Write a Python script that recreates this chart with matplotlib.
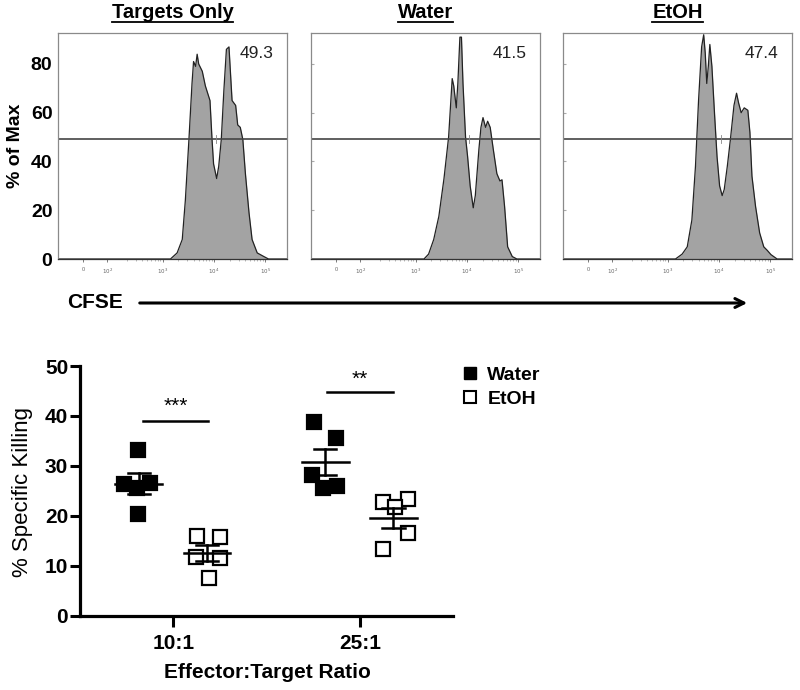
import matplotlib
matplotlib.use("Agg")
import matplotlib.pyplot as plt
import numpy as np
from matplotlib.lines import Line2D
from matplotlib.patches import FancyArrowPatch

plt.rcParams["font.family"] = ["Liberation Sans", "DejaVu Sans"]

# --- flow histograms (x: CFSE position in decades on the logicle axis, y: % of max)
panel_titles = ["Targets Only", "Water", "EtOH"]
gate_percent = ["49.3", "41.5", "47.4"]
gate_level = 49.2

targets_cfse = [3.15, 3.28, 3.38, 3.44, 3.51, 3.57, 3.60, 3.64, 3.67, 3.70, 3.77, 3.83,
                3.92, 3.96, 3.99, 4.05, 4.09, 4.14, 4.19, 4.24, 4.29, 4.32, 4.35, 4.42,
                4.46, 4.51, 4.56, 4.61, 4.68, 4.74, 4.84, 4.97, 5.06]
targets_max = [0, 2.5, 8, 24, 49, 72, 81, 79, 84, 80, 77, 71,
               65, 49, 39, 33, 38, 49, 69, 86, 87, 76, 65, 63,
               55, 54, 49, 35, 19, 8, 2.5, 1, 0]

water_cfse = [3.16, 3.25, 3.35, 3.45, 3.55, 3.64, 3.71, 3.74, 3.79, 3.82, 3.86, 3.89,
              3.92, 3.97, 4.01, 4.06, 4.12, 4.16, 4.23, 4.27, 4.31, 4.36, 4.40, 4.45,
              4.51, 4.58, 4.64, 4.68, 4.73, 4.79, 4.88, 4.97]
water_max = [0, 2, 8, 17.5, 33, 50, 74, 71, 62, 72, 91, 91,
             72, 50, 42, 30, 21, 26, 45, 54, 58, 54, 56.5, 54,
             45, 35, 32, 32.5, 21.6, 5, 1, 0]

etoh_cfse = [3.15, 3.28, 3.38, 3.47, 3.54, 3.60, 3.66, 3.70, 3.73, 3.76, 3.79, 3.82,
             3.86, 3.91, 3.96, 4.01, 4.06, 4.10, 4.16, 4.22, 4.29, 4.34, 4.38, 4.43,
             4.49, 4.56, 4.60, 4.64, 4.71, 4.79, 4.87, 4.94, 5.01, 5.13]
etoh_max = [0, 2, 5, 16, 38, 65, 87, 92, 84.5, 72, 79, 88,
            79, 60, 42, 30, 26, 28.5, 38, 49, 63, 68, 64, 60,
            62, 61, 52, 34, 21.6, 10.7, 5, 3.5, 1.8, 0]

hist_x = [targets_cfse, water_cfse, etoh_cfse]
hist_y = [targets_max, water_max, etoh_max]

cfse_tick_pos = [1.45, 1.92, 3, 4, 5]
cfse_tick_labels = ["0", "$10^2$", "$10^3$", "$10^4$", "$10^5$"]

# --- killing assay
ratios = ["10:1", "25:1"]
water_killing = [[33.2, 20.4, 26.4, 25.6, 26.6], [38.7, 35.5, 28.2, 25.5, 26.0]]
etoh_killing = [[16.0, 15.7, 11.8, 11.5, 7.6], [22.8, 23.3, 21.8, 16.5, 13.3]]
significance = ["***", "**"]

# horizontal spread of the points inside each group (layout only)
water_jitter = [[-0.005, -0.005, -0.08, -0.01, 0.06], [-0.06, 0.06, -0.07, -0.01, 0.065]]
etoh_jitter = [[-0.05, 0.07, -0.06, 0.07, 0.01], [-0.055, 0.08, 0.01, 0.08, -0.055]]

W, H = 800, 690
fig = plt.figure(figsize=(W / 100, H / 100), dpi=100)


def px_axes(left, top, right, bottom):
    return fig.add_axes([left / W, 1 - bottom / H, (right - left) / W, (bottom - top) / H])


panel_lefts = [58, 311, 563]
title_texts = []
for i, left in enumerate(panel_lefts):
    ax = px_axes(left, 33, left + 229, 259)
    xs, ys = hist_x[i], hist_y[i]
    ax.fill_between(xs, ys, 0, color="#a3a3a3", lw=0)
    ax.plot([0.96] + xs + [5.42], [0] + ys + [0], color="#222222", lw=0.9)
    ax.axhline(gate_level, color="#444444", lw=1.2)
    ax.plot([4.03, 4.03], [gate_level - 1.5, gate_level + 1.5], color="#888888", lw=0.6)
    ax.set_xlim(0.96, 5.42)
    ax.set_ylim(0, 92.7)
    for sp in ax.spines.values():
        sp.set_color("#8a8a8a")
        sp.set_linewidth(0.9)
    ax.spines["bottom"].set_color("#333333")
    ax.set_xticks(cfse_tick_pos)
    ax.set_xticklabels(cfse_tick_labels)
    minor = [d + np.log10(k) for d in (2, 3, 4) for k in range(2, 10)]
    ax.set_xticks(minor, minor=True)
    ax.tick_params(axis="x", which="major", length=2.5, width=0.6, color="#666666",
                   labelsize=4, labelcolor="#666666", pad=3)
    ax.tick_params(axis="x", which="minor", length=1.5, width=0.4, color="#888888")
    ax.set_yticks([0, 20, 40, 60, 80])
    if i == 0:
        ax.tick_params(axis="y", length=0, pad=4, labelsize=14)
        for lab in ax.get_yticklabels():
            lab.set_fontweight("bold")
        fig.text(15 / W, 1 - 146 / H, "% of Max", rotation=90, ha="center", va="center",
                 fontsize=14, fontweight="bold")
    else:
        ax.tick_params(axis="y", length=2, direction="in", color="#aaaaaa", labelleft=False)
    ax.text(0.867, 0.91, gate_percent[i], transform=ax.transAxes, ha="center", va="center",
            fontsize=12.5, color="#222222")
    t = fig.text((left + 114.5) / W, 1 - 13 / H, panel_titles[i], ha="center", va="center",
                 fontsize=14.5, fontweight="bold")
    title_texts.append(t)

# CFSE axis arrow
fig.text(67 / W, 1 - 303 / H, "CFSE", ha="left", va="center", fontsize=15, fontweight="bold")
fig.add_artist(FancyArrowPatch((137 / W, 1 - 303 / H), (750 / W, 1 - 303 / H),
                               transform=fig.transFigure, arrowstyle="->", mutation_scale=16,
                               lw=2.2, color="black"))

# killing scatter
ax2 = px_axes(80, 366, 453, 615.7)
cats = np.arange(1, len(ratios) + 1)
for j, c in enumerate(cats):
    for vals, jit, shift, filled in ((water_killing[j], water_jitter[j], -0.185, True),
                                     (etoh_killing[j], etoh_jitter[j], 0.18, False)):
        vals = np.array(vals)
        xs = c + shift + np.array(jit)
        ax2.plot(xs, vals, ls="none", marker="s", ms=9.5, mew=1.6, mec="black",
                 mfc="black" if filled else "white", zorder=3)
        m = vals.mean()
        sem = vals.std(ddof=1) / np.sqrt(len(vals))
        xc = c + shift
        ax2.plot([xc - 0.125, xc + 0.125], [m, m], color="black", lw=1.8, zorder=4)
        ax2.plot([xc, xc], [m - sem, m + sem], color="black", lw=1.8, zorder=4)
        for yy in (m - sem, m + sem):
            ax2.plot([xc - 0.06, xc + 0.06], [yy, yy], color="black", lw=1.8, zorder=4)

sig_lines = [(0.84, 1.187, 39.0, 41.9), (1.824, 2.176, 44.7, 47.3)]
for (x0, x1, yl, yt), s in zip(sig_lines, significance):
    ax2.plot([x0, x1], [yl, yl], color="black", lw=1.8)
    ax2.text((x0 + x1) / 2, yt, s, ha="center", va="center", fontsize=15)

ax2.set_xlim(0.5, 2.5)
ax2.set_ylim(0, 50)
ax2.set_xticks(cats)
ax2.set_xticklabels(ratios)
ax2.set_yticks([0, 10, 20, 30, 40, 50])
for side in ("top", "right"):
    ax2.spines[side].set_visible(False)
for side in ("left", "bottom"):
    ax2.spines[side].set_linewidth(2.3)
ax2.tick_params(axis="y", length=7, width=2.2, pad=1.5, labelsize=15)
ax2.tick_params(axis="x", length=8, width=2.2, pad=5, labelsize=15)
for lab in ax2.get_xticklabels() + ax2.get_yticklabels():
    lab.set_fontweight("bold")
fig.text(23 / W, 1 - 492 / H, "% Specific Killing", rotation=90, ha="center", va="center",
         fontsize=16)
fig.text(267 / W, 1 - 673 / H, "Effector:Target Ratio", ha="center", va="center",
         fontsize=15, fontweight="bold")

handles = [Line2D([], [], ls="none", marker="s", ms=8, color="black"),
           Line2D([], [], ls="none", marker="s", ms=8, mfc="white", mec="black", mew=1.5)]
fig.legend(handles, ["Water", "EtOH"], loc="upper left", bbox_to_anchor=(462 / W, 1 - 366 / H),
           frameon=False, handlelength=0.8, handletextpad=0.5, labelspacing=0.35,
           prop=dict(weight="bold", size=14), borderaxespad=0, borderpad=0)

# underline the panel titles
fig.canvas.draw()
renderer = fig.canvas.get_renderer()
inv = fig.transFigure.inverted()
for t in title_texts:
    bb = t.get_window_extent(renderer)
    (x0, y0), (x1, _) = inv.transform([(bb.x0, bb.y0), (bb.x1, bb.y0)])
    fig.add_artist(Line2D([x0, x1], [y0 + 1 / H, y0 + 1 / H], transform=fig.transFigure,
                          color="black", lw=1.3))

fig.savefig("out.png", dpi=100)
